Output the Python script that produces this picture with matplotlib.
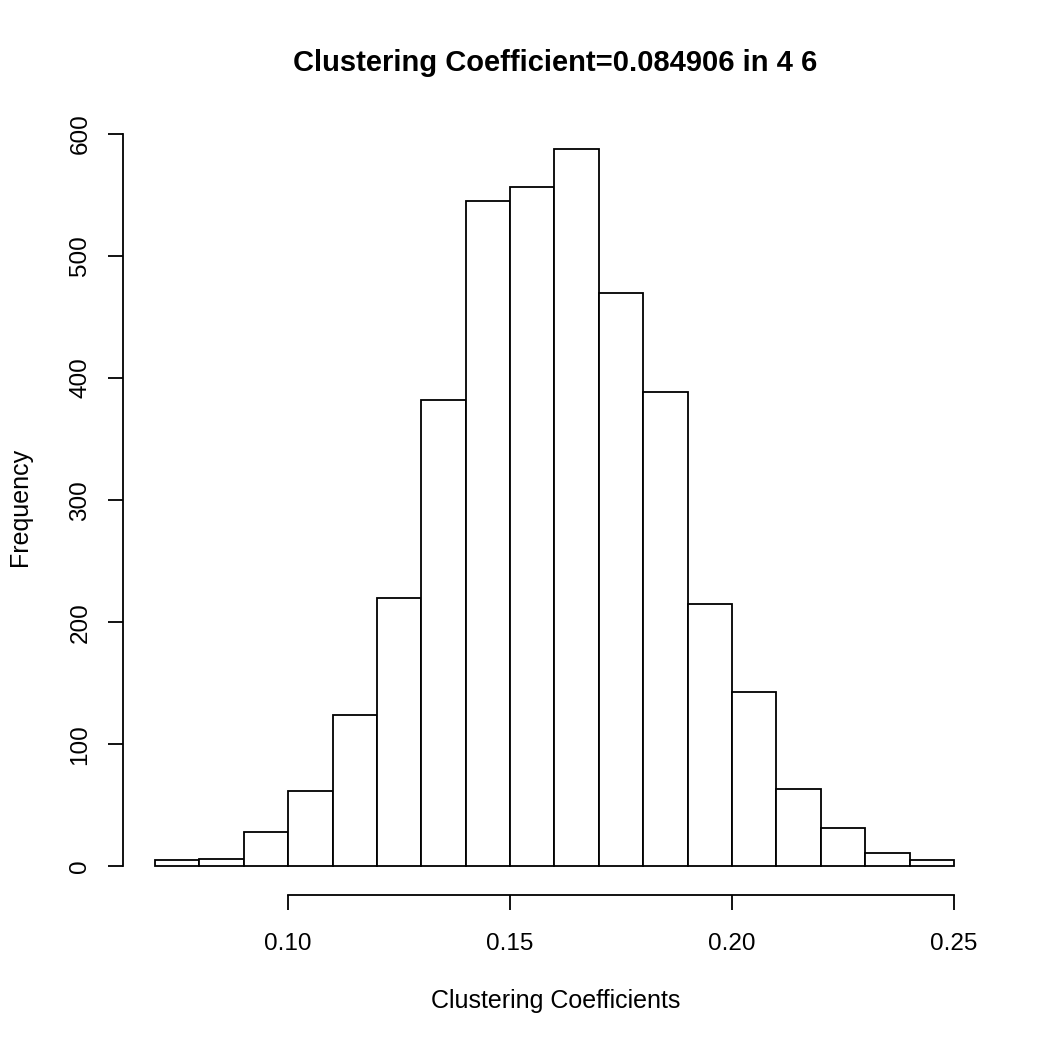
import numpy as np
import matplotlib.pyplot as plt

plt.rcParams['font.family'] = ['Liberation Sans', 'DejaVu Sans']

bin_edges = [0.07, 0.08, 0.09, 0.10, 0.11, 0.12, 0.13, 0.14, 0.15, 0.16,
             0.17, 0.18, 0.19, 0.20, 0.21, 0.22, 0.23, 0.24, 0.25]
counts = [5, 6, 28, 62, 124, 220, 382, 545, 557, 588,
          470, 389, 215, 143, 63, 31, 11, 5]
x_ticks = [0.10, 0.15, 0.20, 0.25]
x_tick_labels = ['0.10', '0.15', '0.20', '0.25']
y_ticks = [0, 100, 200, 300, 400, 500, 600]

fig = plt.figure(figsize=(10.48, 10.48), dpi=100)
ax = fig.add_axes([0.1174, 0.146, 0.8234, 0.7395])

lefts = np.array(bin_edges[:-1])
widths = np.diff(bin_edges)
ax.bar(lefts, counts, width=widths, align='edge', facecolor='white',
       edgecolor='black', linewidth=1.3)

ax.set_xlim(0.0628, 0.2572)
ax.set_ylim(-23.5, 611.5)

for s in ['top', 'right']:
    ax.spines[s].set_visible(False)
ax.spines['bottom'].set_bounds(0.10, 0.25)
ax.spines['left'].set_bounds(0, 600)
ax.spines['bottom'].set_linewidth(1.3)
ax.spines['left'].set_linewidth(1.3)

ax.set_xticks(x_ticks)
ax.set_xticklabels(x_tick_labels)
ax.set_yticks(y_ticks)
ax.set_yticklabels([str(v) for v in y_ticks], rotation=90, va='center')
ax.tick_params(axis='both', length=10.8, width=1.3, labelsize=17.5)
ax.tick_params(axis='x', pad=16.5)
ax.tick_params(axis='y', pad=12)

fig.text(0.53, 0.045, 'Clustering Coefficients', ha='center', va='center', fontsize=18)
fig.text(0.019, 0.516, 'Frequency', ha='center', va='center', fontsize=18, rotation=90)
fig.text(0.53, 0.94, 'Clustering Coefficient=0.084906 in 4 6', ha='center',
         va='center', fontsize=21, fontweight='bold')

fig.savefig('out.png', dpi=100)
